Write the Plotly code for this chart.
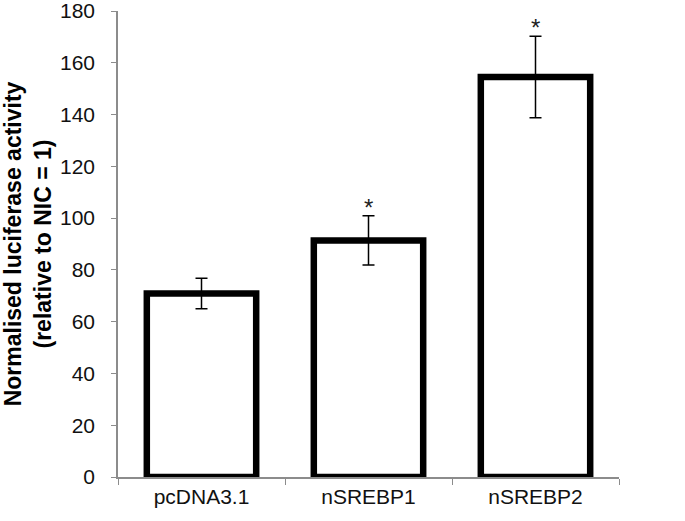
import plotly.graph_objects as go

categories = ["pcDNA3.1", "nSREBP1", "nSREBP2"]
values = [70.9, 91.4, 154.5]
errors = [5.9, 9.5, 15.7]
significance = ["", "*", "*"]
y_ticks = [0, 20, 40, 60, 80, 100, 120, 140, 160, 180]

fig = go.Figure()
fig.add_trace(go.Bar(
    x=categories, y=values,
    width=0.655,
    marker=dict(color="white", line=dict(color="black", width=6.5)),
    error_y=dict(type="data", array=errors, visible=True,
                 color="black", thickness=1.5, width=6),
    showlegend=False,
))

for cat, v, e, s in zip(categories, values, errors, significance):
    if s:
        fig.add_annotation(x=cat, y=v + e, text=s, showarrow=False,
                           yanchor="bottom", yshift=-7,
                           font=dict(family="Liberation Sans, Arial", size=24, color="#222"))

fig.update_layout(
    width=685, height=521,
    margin=dict(l=118, r=66, t=11, b=44),
    paper_bgcolor="white", plot_bgcolor="white",
    font=dict(family="Liberation Sans, Arial", size=21, color="#111"),
    xaxis=dict(
        type="category", range=[-0.5, 2.5], automargin=False,
        showline=True, linecolor="#8c8c8c", linewidth=1.5,
        ticks="outside", tickson="boundaries", ticklen=6, tickcolor="#8c8c8c",
        tickfont=dict(size=21, color="#111"),
        ticklabeloverflow="allow",
        showgrid=False, zeroline=False,
    ),
    yaxis=dict(
        range=[0, 180], tickvals=y_ticks, automargin=False,
        showline=True, linecolor="#8c8c8c", linewidth=1.5,
        ticks="outside", ticklen=5, tickcolor="#8c8c8c",
        tickfont=dict(size=21, color="#111"),
        ticklabelstandoff=12, ticklabeloverflow="allow",
        showgrid=False, zeroline=False,
        title=dict(text="<b>Normalised luciferase activity<br>(relative to NIC = 1)</b>",
                   font=dict(size=23, color="black"), standoff=14),
    ),
)

fig.write_html("out.html",
               config={"displayModeBar": False},
               post_script="document.body.style.margin='0';document.body.style.overflow='hidden';")
